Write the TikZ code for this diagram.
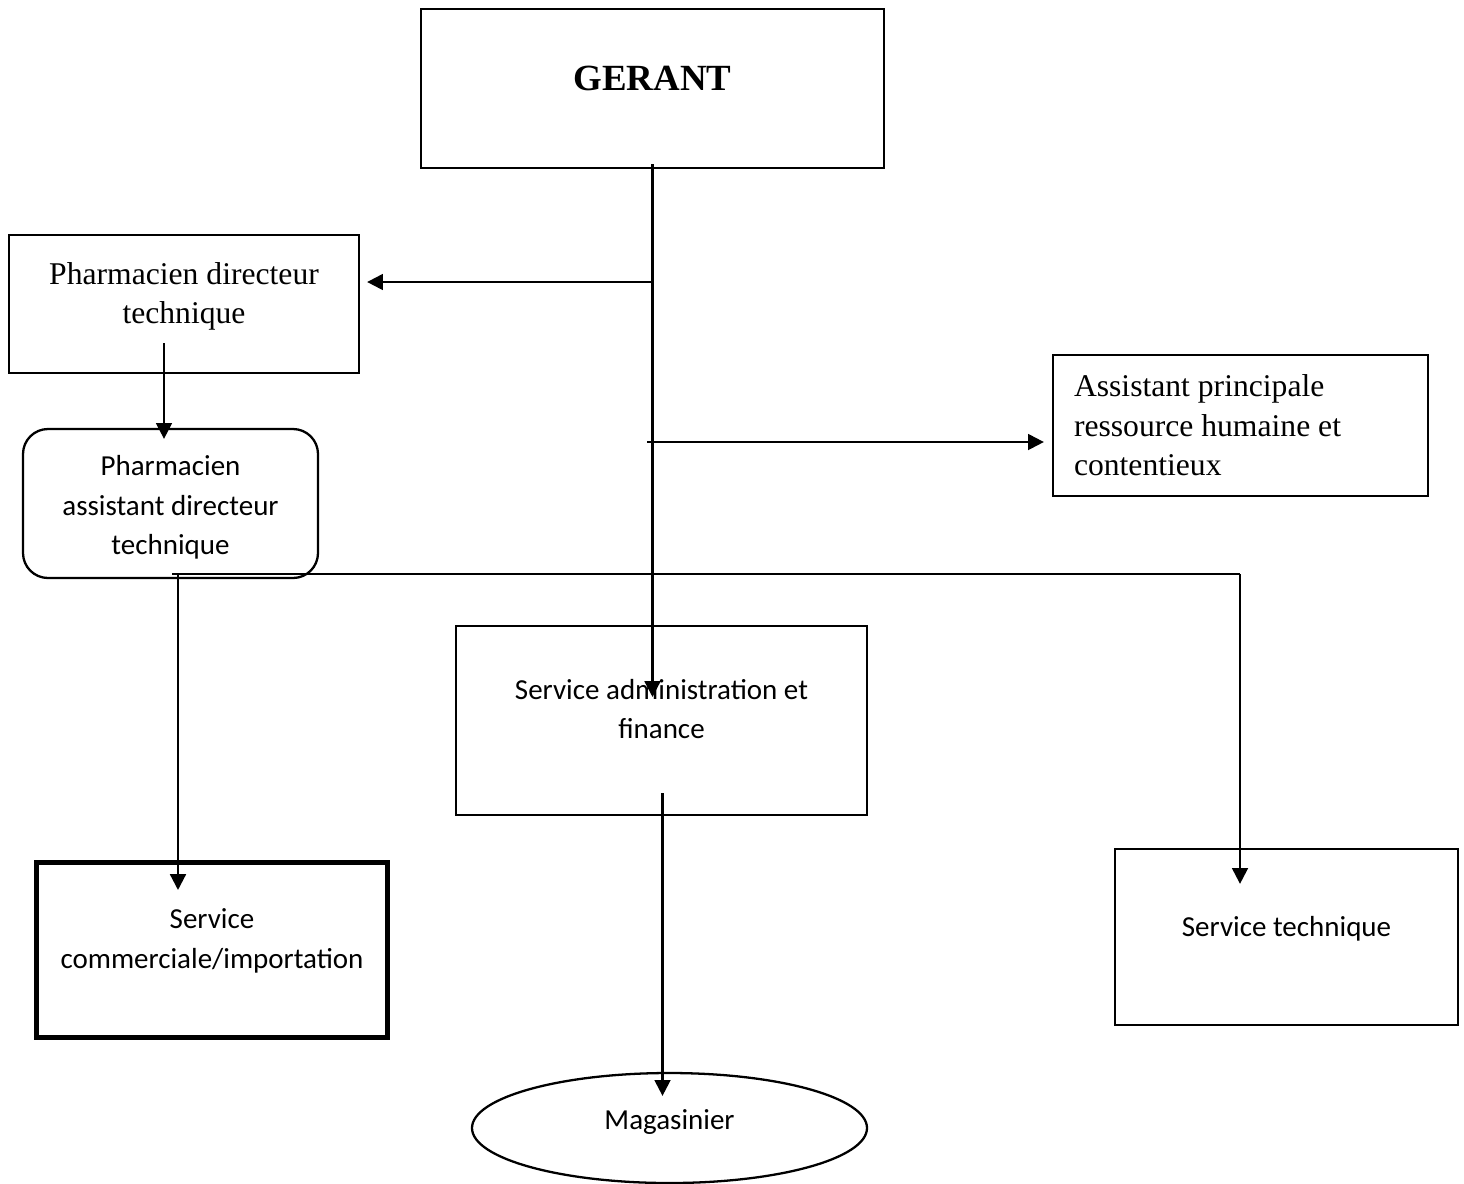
\documentclass[tikz,border=0pt]{standalone}
\usepackage{fontspec}
\usepackage{tikz}
\usetikzlibrary{positioning,arrows.meta,calc,shapes.geometric}
\newfontfamily\timesfont{Liberation Serif}
\newfontfamily\califont{Carlito}

\begin{document}
\begin{tikzpicture}[
    line width=1.3pt,
    tnr/.style={font={\timesfont\fontsize{18pt}{22.5pt}\selectfont}, align=center},
    cal/.style={font={\califont\fontsize{16.5pt}{22.5pt}\selectfont}, align=center},
    box/.style={draw, rectangle, inner sep=0pt},
    rbox/.style={box, rounded corners=0.5cm},
    oval/.style={draw, ellipse, inner sep=0pt},
    arr/.style={-{Triangle[length=9pt,width=9pt]}},
  ]
  \useasboundingbox (0,0) rectangle (29.28,-23.66);

  % boxes of the chart
  \node[box, minimum width=9.26cm, minimum height=3.18cm,
        label={[font={\timesfont\bfseries\fontsize{21pt}{25pt}\selectfont},
                yshift=2mm]center:GERANT}]
    (ger) at (13.05,-1.77) {};
  \node[box, minimum width=7.0cm, minimum height=2.76cm,
        label={[tnr, yshift=1.5mm]center:Pharmacien directeur\\technique}]
    (pdt) at (3.68,-6.08) {};
  \node[rbox, minimum width=5.9cm, minimum height=2.98cm,
        label={[cal, yshift=-0.8mm]center:Pharmacien\\assistant directeur\\technique}]
    (padt) at (3.41,-10.07) {};
  \node[box, tnr, align=flush left, text width=6.66cm, inner xsep=0.42cm,
        minimum height=2.82cm]
    (apr) at (24.81,-8.51) {Assistant principale\\ressource humaine et\\contentieux};
  \node[box, minimum width=8.22cm, minimum height=3.78cm,
        label={[cal, yshift=2.3mm]center:Service administration et\\finance}]
    (adm) at (13.23,-14.41) {};
  \node[box, line width=2.6pt, minimum width=7.03cm, minimum height=3.51cm,
        label={[cal, yshift=1.8mm]center:Service\\commerciale/importation}]
    (com) at (4.24,-19.0) {};
  \node[box, minimum width=6.86cm, minimum height=3.52cm,
        label={[cal, yshift=1.6mm]center:Service technique}]
    (stc) at (25.73,-18.74) {};
  \node[oval, minimum width=7.9cm, minimum height=2.2cm,
        label={[cal, yshift=1.2mm]center:Magasinier}]
    (mag) at (13.39,-22.56) {};

  % junction points
  \coordinate (g0) at ([yshift=1mm]ger.south);
  \coordinate (g1) at (g0 |- 0,-5.64);
  \coordinate (g2) at (12.94,-8.84);
  \coordinate (g3) at ($(g0 |- adm.center)+(0,0.47)$);
  \coordinate (p0) at (3.28,-6.86);
  \coordinate (p1) at ([yshift=-2.2mm]p0 |- padt.north);
  \coordinate (b0) at (3.44,-11.48);
  \coordinate (b1) at (3.56,-11.48);
  \coordinate (b2) at (24.8,-11.48);
  \coordinate (b3) at ([yshift=-6mm]com.north -| b1);
  \coordinate (b4) at ([yshift=-7.2mm]stc.north -| b2);
  \coordinate (a0) at (13.25,-15.86);
  \coordinate (a1) at ([yshift=-4.8mm]a0 |- mag.north);

  % connectors
  \draw[arr] (g0) -- (g3);
  \draw[arr, shorten >=1.4mm] (g1) -- (g1 -| pdt.east);
  \draw[arr, shorten >=1.6mm] (g2) -- (g2 -| apr.west);
  \draw[arr] (p0) -- (p1);
  \draw (b0) -- (b2);
  \draw[arr] (b1) -- (b3);
  \draw[arr] (b2) -- (b4);
  \draw[arr] (a0) -- (a1);
\end{tikzpicture}
\end{document}
